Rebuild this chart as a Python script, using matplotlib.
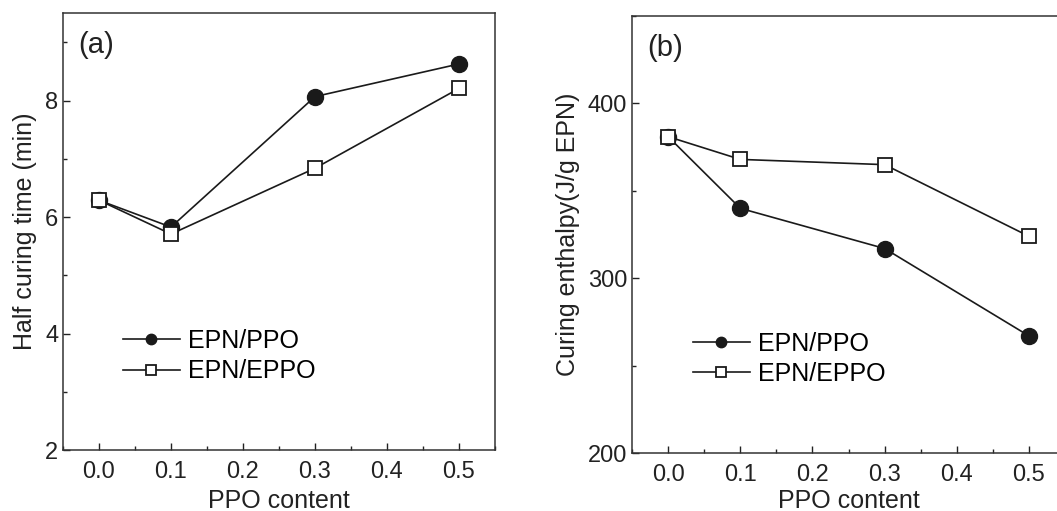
import numpy as np
import matplotlib
matplotlib.use("Agg")
import matplotlib.pyplot as plt
from matplotlib.ticker import MultipleLocator

plt.rcParams['font.family'] = ['Liberation Sans', 'DejaVu Sans']

# PPO content
ppo = [0.0, 0.1, 0.3, 0.5]

# (a) half curing time (min)
half_ppo = [6.29, 5.83, 8.07, 8.63]
half_eppo = [6.29, 5.71, 6.84, 8.21]

# (b) curing enthalpy (J/g EPN)
enth_ppo = [381, 340, 317, 267]
enth_eppo = [381, 368, 365, 324]

fig = plt.figure(figsize=(10.57, 5.11), dpi=100)
axA = fig.add_axes([0.0596, 0.119, 0.4087, 0.855])
axB = fig.add_axes([0.598, 0.1135, 0.4096, 0.855])


def style(ax, lpad):
    ax.tick_params(which='both', direction='in', top=False, right=False,
                   labelsize=17, width=1, colors='#222222')
    ax.tick_params(which='major', length=5)
    ax.tick_params(which='minor', length=3)
    ax.tick_params(axis='x', pad=8)
    for s in ax.spines.values():
        s.set_linewidth(1.1)
        s.set_color('#333333')
    ax.set_xlim(-0.05, 0.55)
    ax.xaxis.set_major_locator(MultipleLocator(0.1))
    ax.xaxis.set_minor_locator(MultipleLocator(0.05))
    ax.set_xlabel('PPO content', fontsize=18, color='#222222', labelpad=lpad)


def draw(ax, y1, y2):
    ax.plot(ppo, y1, '-o', color='#1a1a1a', lw=1.2, ms=11.5,
            label='EPN/PPO', zorder=3)
    ax.plot(ppo, y2, '-s', color='#1a1a1a', lw=1.2, ms=10.5,
            mfc='white', mec='#1a1a1a', mew=1.3, label='EPN/EPPO', zorder=3)


draw(axA, half_ppo, half_eppo)
style(axA, 4)
axA.set_ylim(2, 9.5)
axA.yaxis.set_major_locator(MultipleLocator(2))
axA.yaxis.set_minor_locator(MultipleLocator(1))
axA.set_ylabel('Half curing time (min)', fontsize=18, color='#222222',
               labelpad=6)
axA.text(0.035, 0.96, '(a)', transform=axA.transAxes, fontsize=21,
         va='top', color='#222222')
axA.legend(loc='upper left', bbox_to_anchor=(0.115, 0.3), frameon=False,
           fontsize=18, markerscale=0.65, handlelength=2.3,
           handletextpad=0.3, labelspacing=0.25, borderaxespad=0)

draw(axB, enth_ppo, enth_eppo)
style(axB, 2)
axB.set_ylim(200, 450)
axB.yaxis.set_major_locator(MultipleLocator(100))
axB.yaxis.set_minor_locator(MultipleLocator(50))
axB.set_ylabel('Curing enthalpy(J/g EPN)', fontsize=18, color='#222222',
               labelpad=6)
axB.text(0.035, 0.96, '(b)', transform=axB.transAxes, fontsize=21,
         va='top', color='#222222')
axB.legend(loc='upper left', bbox_to_anchor=(0.117, 0.3), frameon=False,
           fontsize=18, markerscale=0.65, handlelength=2.3,
           handletextpad=0.3, labelspacing=0.25, borderaxespad=0)

fig.savefig('out.png', dpi=100)
